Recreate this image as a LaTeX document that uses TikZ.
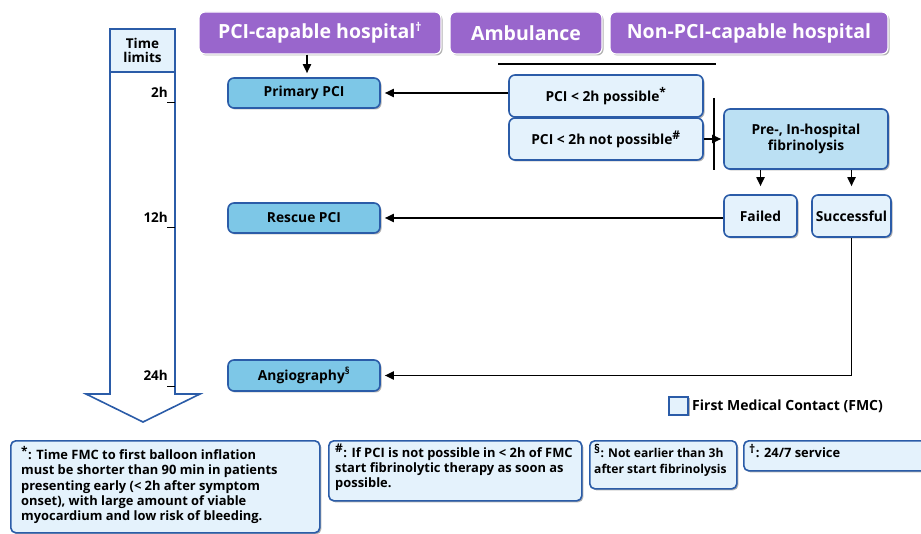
\documentclass[tikz,border=0pt]{standalone}
\usepackage{fontspec}
\setmainfont{Open Sans}
\usetikzlibrary{arrows.meta,shadows}
\definecolor{hdrpurple}{HTML}{9966CC}
\definecolor{edgeblue}{HTML}{2B5CA8}
\definecolor{paleblue}{HTML}{E4F2FC}
\definecolor{skyblue}{HTML}{7DC7E7}
\definecolor{midblue}{HTML}{BBE0F3}
\newcommand{\supmark}[1]{\textsuperscript{\fontsize{12}{12}\selectfont #1}}
\begin{document}
\begin{tikzpicture}[x=1pt,y=-1pt,
  softshadow/.style={drop shadow={shadow xshift=1.5pt,shadow yshift=-1.5pt,opacity=.3,fill=black}},
  header/.style={draw=white,line width=1.2pt,fill=hdrpurple,rounded corners=6pt,text=white,
    font=\fontsize{19.5}{21}\selectfont\bfseries,minimum height=42pt,inner sep=0pt,softshadow},
  treat/.style={draw=edgeblue,line width=1.6pt,fill=skyblue,rounded corners=6pt,
    font=\fontsize{13.8}{15}\selectfont\bfseries,minimum width=152pt,minimum height=30pt,inner sep=0pt,softshadow},
  fmcbox/.style={draw=edgeblue,line width=1.6pt,fill=paleblue,rounded corners=6pt,
    font=\fontsize{13.8}{15.5}\selectfont\bfseries,align=center,inner sep=0pt,softshadow},
  notebox/.style={draw=edgeblue,line width=1.6pt,fill=paleblue,rounded corners=5pt,inner sep=0pt,softshadow},
  notetext/.style={anchor=north west,align=left,inner sep=0pt,
    font=\fontsize{12.9}{15.3}\selectfont\bfseries},
  arr/.style={line width=1.8pt,-{Triangle[length=9pt,width=8pt]}},
  plain/.style={line width=1.8pt},
  tick/.style={font=\fontsize{13.5}{15}\selectfont\bfseries,anchor=east,inner sep=0pt}]
\useasboundingbox (0,0) rectangle (921,534);

% time axis arrow
\draw[edgeblue,line width=1.6pt,fill=white]
  (110,29) -- (175,29) -- (175,394) -- (200,394) -- (143,422) -- (86,394) -- (110,394) -- cycle;
\node[draw=edgeblue,line width=1.6pt,fill=paleblue,minimum width=65pt,minimum height=43pt,inner sep=0pt,
  align=center,font=\fontsize{13.5}{14.5}\selectfont\bfseries] (tl) at (142.5,50.5) {Time\\limits};
\node[tick] (t2) at (168,92) {2h};
\node[tick] (t12) at (168,217) {12h};
\node[tick] (t24) at (168,375) {24h};
\draw[line width=1pt] (167,103) -- (175,103);
\draw[line width=1pt] (167,228) -- (175,228);
\draw[line width=1pt] (167,387) -- (175,387);

% setting headers
\node[header,minimum width=242pt] (hpci) at (320,33) {PCI-capable hospital\supmark{\dag}};
\node[header,minimum width=152pt] (hamb) at (526,33) {Ambulance};
\node[header,minimum width=278pt] (hnon) at (749,33) {Non-PCI-capable hospital};

% treatments
\node[treat] (prim) at (304,93) {Primary PCI};
\node[treat] (resc) at (304,218) {Rescue PCI};
\node[treat,minimum height=31pt] (angio) at (304,375.5) {Angiography\textsuperscript{\S}};

% first medical contact decisions
\node[fmcbox,minimum width=194pt,minimum height=42pt] (poss) at (606,96) {PCI < 2h possible\supmark{*}};
\node[fmcbox,minimum width=194pt,minimum height=42pt] (notp) at (606,139) {PCI < 2h not possible\supmark{\#}};
\node[fmcbox,fill=midblue,minimum width=164pt,minimum height=60pt] (fib) at (806,139) {Pre-, In-hospital\\fibrinolysis};
\node[fmcbox,minimum width=73pt,minimum height=42pt] (fail) at (760.5,216) {Failed};
\node[fmcbox,minimum width=79pt,minimum height=42pt] (succ) at (851.5,216) {Successful};

% separator lines
\coordinate (ambL) at (498,64);
\coordinate (ambR) at (716,64);
\draw[plain] (ambL) -- (ambR);
\coordinate (sepT) at (714,98);
\coordinate (sepB) at (714,170);
\draw[line width=1.4pt] (sepT) -- (sepB);

% connectors
\coordinate (dropx) at (307,0);
\draw[arr,shorten >=4pt] (hpci.south -| dropx) -- (prim.north -| dropx);
\draw[arr,shorten >=4pt] (poss.west |- prim.east) -- (prim.east);
\draw[arr,shorten >=2pt] (notp.east) -- (fib.west |- notp.east);
\draw[arr,shorten >=8pt] (fib.south -| fail.north) -- (fail.north);
\draw[arr,shorten >=8pt] (fib.south -| succ.north) -- (succ.north);
\draw[arr,shorten >=4pt] (fail.west |- resc.east) -- (resc.east);
\draw[arr,shorten >=4pt] (succ.south) |- (angio.east);

% legend
\node[draw=edgeblue,line width=1.6pt,fill=paleblue,minimum width=19pt,minimum height=18pt,inner sep=0pt,softshadow] (leg) at (678.5,406) {};
\node[anchor=west,inner sep=0pt,font=\fontsize{14}{15}\selectfont\bfseries] (legt) at (692,406) {First Medical Contact (FMC)};

% footnotes
\node[notebox,minimum width=309pt,minimum height=92pt,anchor=north west] (n1) at (10,440) {};
\node[notetext] (n1t) at (21,446) {\supmark{*}: Time FMC to first balloon inflation\\must be shorter than 90 min in patients\\presenting early (< 2h after symptom\\onset), with large amount of viable\\myocardium and low risk of bleeding.};
\node[notebox,minimum width=253pt,minimum height=60pt,anchor=north west] (n2) at (328,440) {};
\node[notetext] (n2t) at (335,444) {\supmark{\#}: If PCI is not possible in < 2h of FMC\\start fibrinolytic therapy as soon as\\possible.};
\node[notebox,minimum width=147pt,minimum height=48pt,anchor=north west] (n3) at (589,440) {};
\node[notetext,font=\fontsize{12.1}{15.3}\selectfont\bfseries] (n3t) at (594,444) {\supmark{\S}: Not earlier than 3h\\after start fibrinolysis};
\node[notebox,minimum width=190pt,minimum height=30pt,anchor=north west] (n4) at (743,440) {};
\node[notetext] (n4t) at (749,444) {\supmark{\dag}: 24/7 service};
\end{tikzpicture}
\end{document}
